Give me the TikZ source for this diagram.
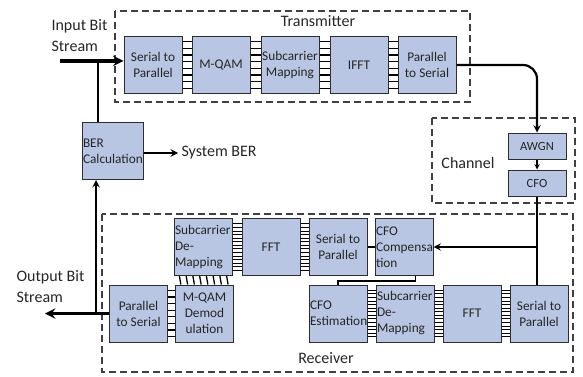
\documentclass[tikz,border=0pt]{standalone}
\usepackage{fontspec}
\setmainfont{Carlito}
\usetikzlibrary{positioning,calc,arrows}

\definecolor{blkfill}{RGB}{184,198,228}
\definecolor{blkline}{RGB}{45,45,50}

\tikzset{
  blk/.style={draw=blkline, line width=1pt, fill=blkfill, text=black!85,
    minimum width=58pt, minimum height=57pt, inner sep=1pt, align=center,
    font=\fontsize{13.3}{16}\selectfont},
  lblk/.style={blk, align=left, text width=56pt},
  sblk/.style={blk, minimum height=26pt, font=\fontsize{12.5}{14}\selectfont},
  frame/.style={draw=black!75, line width=1.2pt, dash pattern=on 7pt off 4pt},
  title/.style={font=\fontsize{16}{21}\selectfont, align=left, text=black!85},
  rung/.style={line width=1.3pt},
  finerung/.style={line width=0.8pt},
  fatline/.style={line width=3.5pt},
  medline/.style={line width=2.2pt},
  thinline/.style={line width=1.4pt},
}

% ladder of parallel lines between two blocks
\newcommand{\hbus}[4][rung]{%
  \foreach \k in {1,...,#4}{%
    \pgfmathsetmacro{\rpos}{0.1+0.8*(\k-1)/(#4-1)}
    \draw[#1] ($(#2.north east)!\rpos!(#2.south east)$) -- ($(#3.north west)!\rpos!(#3.south west)$);
  }}
\newcommand{\vbus}[4][rung]{%
  \foreach \k in {1,...,#4}{%
    \pgfmathsetmacro{\rpos}{0.1+0.8*(\k-1)/(#4-1)}
    \draw[#1] ($(#2.south west)!\rpos!(#2.south east)$) -- ($(#3.north west)!\rpos!(#3.north east)$);
  }}

\begin{document}
\begin{tikzpicture}[x=1pt, y=-1pt, >=stealth]
  \useasboundingbox (0,0) rectangle (583,377);

  % frames
  \draw[frame] (115,11) rectangle (470,102);
  \draw[frame] (432,118) rectangle (575,203);
  \draw[frame] (102,214) rectangle (573,372);
  \node[title, anchor=center] (txlabel) at (318,21) {Transmitter};
  \node[title, anchor=center] (chlabel) at (468,163) {Channel};
  \node[title, anchor=center] (rxlabel) at (326,358) {Receiver};

  % transmitter
  \node[blk] (txsp) at (153,65) {Serial to\\Parallel};
  \node[blk] (qam) at (221,65) {M-QAM};
  \node[blk] (submap) at (290,65) {Subcarrier\\Mapping};
  \node[blk] (ifft) at (359,65) {IFFT};
  \node[blk] (txps) at (427,65) {Parallel\\to Serial};
  \hbus{txsp}{qam}{8}
  \hbus{qam}{submap}{8}
  \hbus{submap}{ifft}{8}
  \hbus{ifft}{txps}{8}

  % channel
  \node[sblk] (awgn) at (537,146) {AWGN};
  \node[sblk] (cfo) at (537,183) {CFO};

  % receiver
  \node[lblk] (rxsubdm) at (203,247) {Subcarrier\\De-\\Mapping};
  \node[blk] (rxfft) at (271,247) {FFT};
  \node[blk] (rxsp) at (338,247) {Serial to\\Parallel};
  \node[lblk] (cfocomp) at (404,247) {CFO\\Compensa\\tion};
  \node[blk] (rxps) at (138.5,313.5) {Parallel\\to Serial};
  \node[blk] (demod) at (204.5,313.5) {M-QAM\\Demod\\ulation};
  \node[lblk] (cfoest) at (338,313.5) {CFO\\Estimation};
  \node[lblk] (subdm) at (405,313.5) {Subcarrier\\De-\\Mapping};
  \node[blk] (fft) at (472,313.5) {FFT};
  \node[blk] (sp) at (539,313.5) {Serial to\\Parallel};
  \hbus[finerung]{rxsubdm}{rxfft}{14}
  \hbus[finerung]{rxfft}{rxsp}{14}
  \hbus{rxps}{demod}{8}
  \vbus{rxsubdm}{demod}{8}
  \hbus[finerung]{cfoest}{subdm}{14}
  \hbus[finerung]{subdm}{fft}{14}
  \hbus[finerung]{fft}{sp}{14}

  % BER
  \node[lblk, minimum width=61pt, text width=59pt] (ber) at (112.5,151) {BER\\Calculation};
  \node[title, anchor=west] (sysber) at (178,153) {System BER};

  % input / output
  \node[title, anchor=west] (inlabel) at (48,36) {Input Bit\\Stream};
  \node[title, anchor=west] (outlabel) at (13,287) {Output Bit\\Stream};
  \coordinate (intail) at (60,61);
  \coordinate (inbr) at (98,61);
  \coordinate (outtip) at (45,313.5);
  \coordinate (fb) at (96,313.5);

  % connectors
  \draw[fatline, ->] (intail) -- (intail -| txsp.west);
  \draw[medline] (inbr) -- (inbr |- ber.north);
  \draw[medline, ->] (ber.east |- sysber.west) -- (sysber.west);
  \draw[fatline, ->] (rxps.west) -- (outtip);
  \draw[medline, ->] (fb) -- (fb |- ber.south);

  \draw[medline, ->, rounded corners=14pt] (txps.east) -| (awgn.north);
  \draw[thinline, ->] (awgn.south) -- (cfo.north);
  \draw[thinline] (cfo.south) -- (cfo.south |- sp.north);
  \coordinate (br) at (cfo.south |- cfocomp.east);
  \draw[medline, ->] (br) -- (cfocomp.east);
  \draw[thinline] (rxsp.east) -- (cfocomp.west);
  \draw[thinline] ($(cfocomp.south west)!0.69!(cfocomp.south east)$) -- ++(0,5) -| (cfoest.north);
\end{tikzpicture}
\end{document}
